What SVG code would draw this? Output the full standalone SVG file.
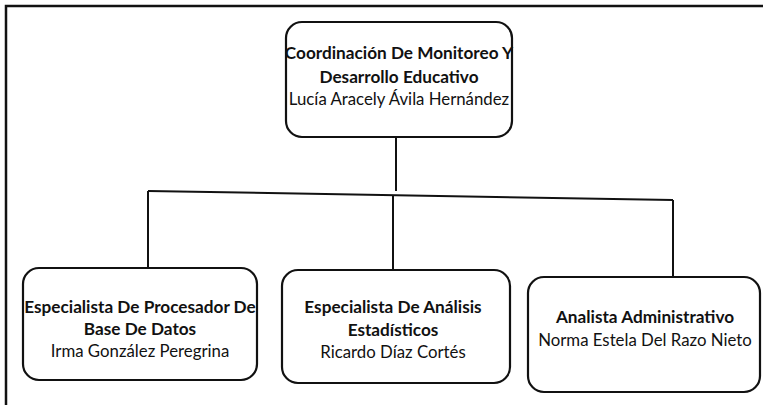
<svg xmlns="http://www.w3.org/2000/svg" width="763" height="405" viewBox="0 0 763 405">
<style>
.box{fill:#fff;stroke:#111;stroke-width:2.2}
.ln{fill:none;stroke:#111;stroke-width:2}
.frame{fill:none;stroke:#111;stroke-width:2.5}
text{font-family:Lato,"Liberation Sans",sans-serif;font-size:16.8px;fill:#111;text-anchor:middle}
.b{font-weight:bold;font-size:17.2px}
</style>
<rect width="763" height="405" fill="#fff"/>
<path class="frame" d="M6 405 V6 H763"/>
<g id="connectors">
<path class="ln" d="M396 137 V191"/>
<path class="ln" d="M148 191 L673 200"/>
<path class="ln" d="M148 191 V268"/>
<path class="ln" d="M393 195 V270"/>
<path class="ln" d="M673 200 V277"/>
</g>
<g id="n-coord">
<rect class="box" x="286" y="22" width="226" height="115" rx="16"/>
<text class="b" x="399" y="59">Coordinación De Monitoreo Y</text>
<text class="b" x="399" y="83">Desarrollo Educativo</text>
<text x="399" y="105">Lucía Aracely Ávila Hernández</text>
</g>
<g id="n-proc">
<rect class="box" x="23" y="268" width="234" height="112" rx="16"/>
<text class="b" x="140" y="313">Especialista De Procesador De</text>
<text class="b" x="140" y="335">Base De Datos</text>
<text x="140" y="357">Irma González Peregrina</text>
</g>
<g id="n-analisis">
<rect class="box" x="282" y="270" width="228" height="113" rx="16"/>
<text class="b" x="393" y="313">Especialista De Análisis</text>
<text class="b" x="393" y="336">Estadísticos</text>
<text x="393" y="358">Ricardo Díaz Cortés</text>
</g>
<g id="n-admin">
<rect class="box" x="528" y="277" width="232" height="115" rx="16"/>
<text class="b" x="645" y="323">Analista Administrativo</text>
<text x="645" y="346">Norma Estela Del Razo Nieto</text>
</g>
</svg>
